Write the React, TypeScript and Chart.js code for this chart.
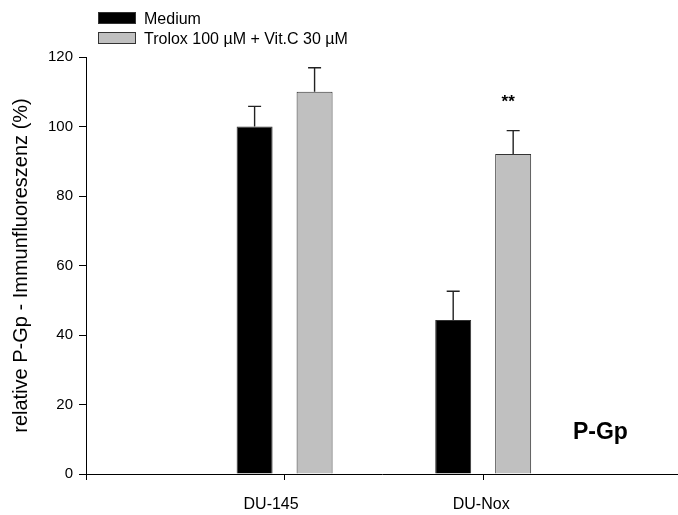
import React, { useEffect, useRef } from "react";
import { Chart, registerables } from "chart.js";

Chart.register(...registerables);

const categories = ["DU-145", "DU-Nox"];
const categoryPositions = [1, 2];
const labelPositions = [0.932, 1.99];
const mediumValues = [100, 44.3];
const mediumErrors = [5.8, 8.3];
const troloxValues = [110, 92.1];
const troloxErrors = [6.9, 6.7];
const seriesLabels = ["Medium", "Trolox 100 µM + Vit.C 30 µM"];
const yTicks = [0, 20, 40, 60, 80, 100, 120];
const yTitle = "relative P-Gp - Immunfluoreszenz (%)";
const significance = "**";
const panelLabel = "P-Gp";

const FONT = "'Liberation Sans', Arial, sans-serif";

const errorBarPlugin = {
  id: "errorBars",
  afterDatasetsDraw(chart: any) {
    const { ctx } = chart;
    const yScale = chart.scales.y;
    const xScale = chart.scales.x;
    chart.data.datasets.forEach((ds: any, i: number) => {
      const meta = chart.getDatasetMeta(i);
      meta.data.forEach((el: any, j: number) => {
        const v = ds.data[j].y;
        const e = ds.errors[j];
        const yTop = yScale.getPixelForValue(v + e);
        ctx.save();
        ctx.strokeStyle = "#222";
        ctx.lineWidth = 1.4;
        ctx.beginPath();
        ctx.moveTo(el.x, el.y);
        ctx.lineTo(el.x, yTop);
        ctx.moveTo(el.x - 6.5, yTop);
        ctx.lineTo(el.x + 6.5, yTop);
        ctx.stroke();
        ctx.restore();
      });
    });
    ctx.save();
    ctx.fillStyle = "#000";
    ctx.textAlign = "center";
    ctx.textBaseline = "middle";
    ctx.font = `bold 17px ${FONT}`;
    const troloxMeta = chart.getDatasetMeta(1);
    const bx = troloxMeta.data[1].x;
    ctx.fillText(significance, bx - 5, yScale.getPixelForValue(107));
    ctx.font = `bold 23px ${FONT}`;
    ctx.fillText(panelLabel, xScale.getPixelForValue(2.59), yScale.getPixelForValue(12));
    ctx.restore();
  },
};

export default function App() {
  const ref = useRef<HTMLCanvasElement | null>(null);
  useEffect(() => {
    if (!ref.current) return;
    const xMin = 0;
    const xMax = 2.981;
    const chart = new Chart(ref.current, {
      type: "bar",
      data: {
        datasets: [
          {
            label: seriesLabels[0],
            data: categoryPositions.map((x, i) => ({ x, y: mediumValues[i] })),
            errors: mediumErrors,
            backgroundColor: "#000000",
            borderColor: "#333333",
            borderWidth: 1,
          } as any,
          {
            label: seriesLabels[1],
            data: categoryPositions.map((x, i) => ({ x, y: troloxValues[i] })),
            errors: troloxErrors,
            backgroundColor: "#c0c0c0",
            borderColor: "#333333",
            borderWidth: 1,
          } as any,
        ],
      },
      options: {
        responsive: false,
        animation: false,
        categoryPercentage: 0.604,
        barPercentage: 0.6,
        layout: { padding: { top: 57, right: 0, bottom: 0, left: 0 } },
        plugins: {
          legend: { display: false },
          tooltip: { enabled: false },
        },
        scales: {
          x: {
            type: "linear",
            position: "bottom",
            min: xMin,
            max: xMax,
            offset: false,
            afterFit(scale: any) {
              scale.height = 8;
            },
            afterBuildTicks(scale: any) {
              scale.ticks = [0, ...categoryPositions].map((v) => ({ value: v }));
            },
            ticks: { display: false },
            grid: {
              offset: false,
              drawOnChartArea: false,
              drawTicks: true,
              tickLength: 6,
              color: "#000",
            },
            border: { color: "#000", width: 1 },
          },
          xLabels: {
            type: "linear",
            position: "bottom",
            min: xMin,
            max: xMax,
            offset: false,
            afterFit(scale: any) {
              scale.height = 33;
            },
            afterBuildTicks(scale: any) {
              scale.ticks = labelPositions.map((v) => ({ value: v }));
            },
            ticks: {
              autoSkip: false,
              maxRotation: 0,
              padding: 13,
              color: "#000",
              font: { family: FONT, size: 16 },
              callback: (_v: any, idx: number) => categories[idx],
            },
            grid: { display: false, drawTicks: false },
            border: { display: false },
          },
          y: {
            min: 0,
            max: 120,
            afterFit(scale: any) {
              scale.width = 86;
            },
            afterBuildTicks(scale: any) {
              scale.ticks = yTicks.map((v) => ({ value: v }));
            },
            ticks: {
              padding: 6,
              color: "#000",
              font: { family: FONT, size: 15 },
            },
            grid: {
              drawOnChartArea: false,
              drawTicks: true,
              tickLength: 7,
              color: "#000",
            },
            border: { color: "#000", width: 1 },
            title: {
              display: true,
              text: yTitle,
              color: "#000",
              font: { family: FONT, size: 20 },
              padding: { top: 9, bottom: 0 },
            },
          },
        },
      } as any,
      plugins: [errorBarPlugin],
    });
    return () => chart.destroy();
  }, []);

  const legendRow = (color: string, text: string, boxTop: number, textTop: number) => (
    <>
      <span
        style={{
          position: "absolute",
          left: 98,
          top: boxTop,
          width: 36,
          height: 10,
          background: color,
          border: "1px solid #333",
        }}
      />
      <span
        style={{
          position: "absolute",
          left: 144,
          top: textTop,
          font: `16px ${FONT}`,
          lineHeight: "16px",
          color: "#000",
          whiteSpace: "nowrap",
        }}
      >
        {text}
      </span>
    </>
  );

  return (
    <div style={{ position: "absolute", left: 0, top: 0, width: 678, height: 515, background: "#fff" }}>
      <canvas ref={ref} width={678} height={515} style={{ display: "block" }} />
      {legendRow("#000000", seriesLabels[0], 12, 11)}
      {legendRow("#c0c0c0", seriesLabels[1], 32, 31)}
    </div>
  );
}
